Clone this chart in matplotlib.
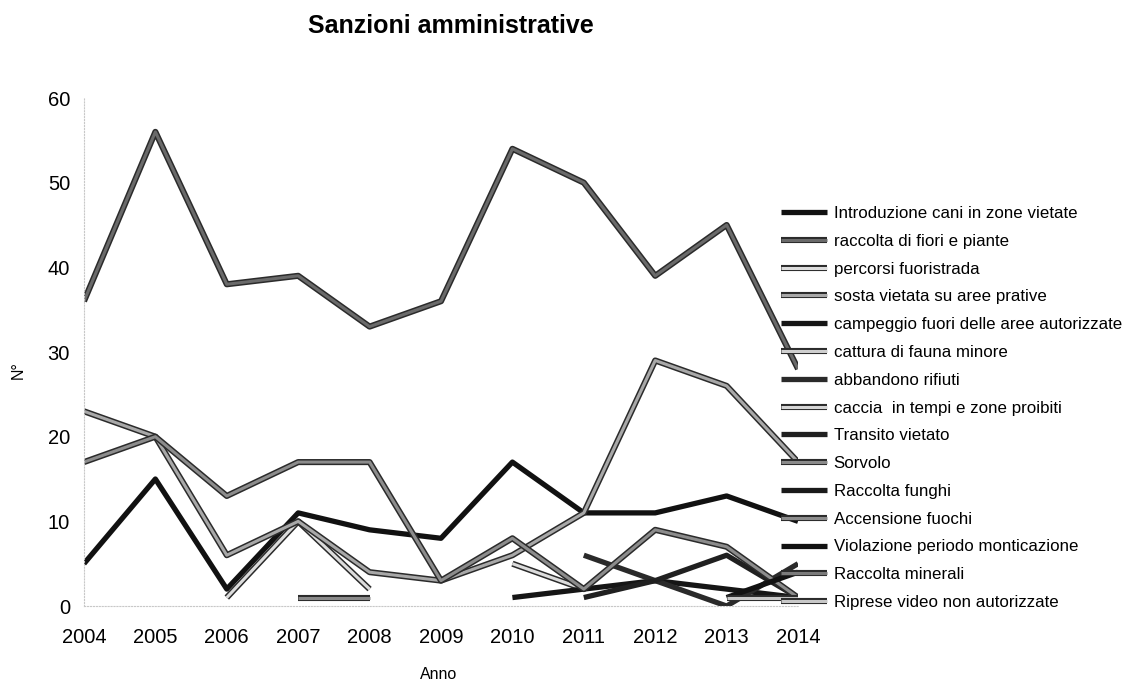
import numpy as np
import matplotlib
matplotlib.use('Agg')
from matplotlib import pyplot as plt
import matplotlib.patheffects as pe

plt.rcParams['font.family'] = ['Liberation Sans', 'DejaVu Sans']

################################################################################
### Data
################################################################################
nan = np.nan
anni = [2004, 2005, 2006, 2007, 2008, 2009, 2010, 2011, 2012, 2013, 2014]

introduzione_cani = [5, 15, 2, 11, 9, 8, 17, 11, 11, 13, 10]
raccolta_fiori = [36, 56, 38, 39, 33, 36, 54, 50, 39, 45, 28]
percorsi_fuoristrada = [nan, nan, 1, 10, 2, nan, 5, 2, nan, nan, nan]
sosta_vietata = [23, 20, 6, 10, 4, 3, 6, 11, 29, 26, 17]
campeggio = [nan, nan, nan, nan, nan, nan, 1, 2, 3, 2, 1]
cattura_fauna = [nan] * 11
abbandono_rifiuti = [nan, nan, nan, nan, nan, nan, nan, 6, 3, 0, 5]
caccia = [nan] * 11
transito_vietato = [nan, nan, nan, nan, nan, nan, nan, 1, 3, 6, 1]
sorvolo = [nan, nan, nan, 1, 1, nan, nan, nan, nan, nan, nan]
raccolta_funghi = [nan] * 11
accensione_fuochi = [17, 20, 13, 17, 17, 3, 8, 2, 9, 7, 1]
violazione_monticazione = [nan, nan, nan, nan, nan, nan, nan, nan, nan, 1, 4]
raccolta_minerali = [nan] * 11
riprese_video = [nan, nan, nan, nan, nan, nan, nan, nan, nan, 1, 1]

# (label, values, colour, solid black line?)
serie = [
    ('Introduzione cani in zone vietate', introduzione_cani, '#111111', True),
    ('raccolta di fiori e piante', raccolta_fiori, '#6a6a6a', False),
    ('percorsi fuoristrada', percorsi_fuoristrada, '#dcdcdc', False),
    ('sosta vietata su aree prative', sosta_vietata, '#a8a8a8', False),
    ('campeggio fuori delle aree autorizzate', campeggio, '#151515', True),
    ('cattura di fauna minore', cattura_fauna, '#cfcfcf', False),
    ('abbandono rifiuti', abbandono_rifiuti, '#2a2a2a', True),
    ('caccia  in tempi e zone proibiti', caccia, '#d5d5d5', False),
    ('Transito vietato', transito_vietato, '#202020', True),
    ('Sorvolo', sorvolo, '#8a8a8a', False),
    ('Raccolta funghi', raccolta_funghi, '#1a1a1a', True),
    ('Accensione fuochi', accensione_fuochi, '#8c8c8c', False),
    ('Violazione periodo monticazione', violazione_monticazione, '#111111', True),
    ('Raccolta minerali', raccolta_minerali, '#7a7a7a', False),
    ('Riprese video non autorizzate', riprese_video, '#c8c8c8', False),
]

################################################################################
### Plot
################################################################################
fig = plt.figure(figsize=(11.24, 6.82), dpi=100)
ax = fig.add_axes([0.0747, 0.1114, 0.6353, 0.7449])

for nome, valori, colore, nero in serie:
    if nero:
        ax.plot(anni, valori, color=colore, lw=3.8, label=nome,
                solid_capstyle='butt')
    else:
        ax.plot(anni, valori, color=colore, lw=2.2, label=nome,
                solid_capstyle='butt',
                path_effects=[pe.Stroke(linewidth=4.4, foreground='#2b2b2b'),
                              pe.Normal()])

ax.set_xlim(2004, 2014)
ax.set_ylim(0, 60)
ax.set_xticks(anni)
ax.set_yticks([0, 10, 20, 30, 40, 50, 60])
ax.tick_params(axis='both', length=0, labelsize=14.5)
ax.tick_params(axis='x', pad=16)
ax.tick_params(axis='y', pad=10)
for s in ['top', 'right']:
    ax.spines[s].set_visible(False)
for s in ['left', 'bottom']:
    ax.spines[s].set_color('#c8c8c8')
    ax.spines[s].set_linestyle(':')

ax.set_xlabel('Anno', fontsize=11.5)
ax.set_ylabel('N°', fontsize=11.5)
ax.xaxis.set_label_coords(0.497, -0.12)
ax.yaxis.set_label_coords(-0.081, 0.465)

fig.text(0.401, 0.962, 'Sanzioni amministrative', fontsize=18,
         fontweight='bold', ha='center', va='center')

leg = fig.legend(loc='upper left', bbox_to_anchor=(0.695, 0.698),
                 frameon=False, fontsize=12.2, handlelength=2.7,
                 handletextpad=0.4, labelspacing=0.755, borderpad=0,
                 borderaxespad=0)

fig.savefig('out.png', dpi=100)
